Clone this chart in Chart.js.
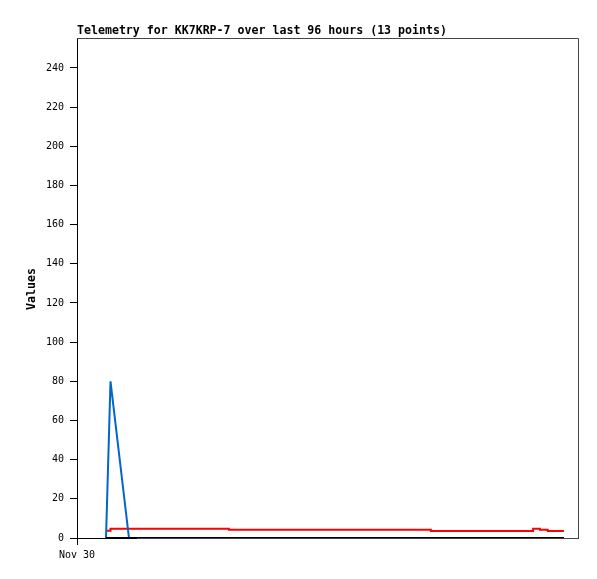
<!DOCTYPE html>
<html>
<head>
<meta charset="utf-8">
<title>Telemetry</title>
<script src="https://cdn.jsdelivr.net/npm/chart.js@4.4.1/dist/chart.umd.min.js"></script>
<style>
  html, body { margin: 0; padding: 0; background: #fff; }
  #wrap { width: 597px; height: 579px; }
</style>
</head>
<body>
<div id="wrap"><canvas id="telemetryChart" width="597" height="579"></canvas></div>
<script>
// hours since Nov 30 00:00 for each of the 13 telemetry points
const hours = [5.56, 6.42, 9.96, 19.7, 29.1, 42.7, 58.1, 67.8, 77.2, 87.4, 88.7, 90.2, 93.3];
const seriesBlack = [0, 0, 0, 0, 0, 0, 0, 0, 0, 0, 0, 0, 0];
const seriesBlue = [0, 80, 0, 0, 0, 0, 0, 0, 0, 0, 0, 0, 0];
const seriesRed = [3.7, 4.75, 4.75, 4.75, 4.25, 4.25, 4.25, 3.6, 3.6, 4.75, 4.25, 3.6, 3.6];
const yTicks = [0, 20, 40, 60, 80, 100, 120, 140, 160, 180, 200, 220, 240];
const xTickLabel = 'Nov 30';
const titleText = 'Telemetry for KK7KRP-7 over last 96 hours (13 points)';
const yAxisTitle = 'Values';

function toPoints(values) {
    return values.map((v, i) => ({ x: hours[i], y: v }));
}

// title, axis title and grey frame drawn by hand, like the original gd output
const framePlugin = {
    id: 'frame',
    afterDraw(chart) {
        const ctx = chart.ctx;
        const a = chart.chartArea;
        ctx.save();
        ctx.strokeStyle = '#444';
        ctx.lineWidth = 1;
        ctx.beginPath();
        ctx.moveTo(a.left, a.top + 0.5);
        ctx.lineTo(a.right + 0.5, a.top + 0.5);
        ctx.lineTo(a.right + 0.5, a.bottom + 0.5);
        ctx.lineTo(a.left + 60, a.bottom + 0.5);
        ctx.stroke();
        ctx.fillStyle = '#000';
        ctx.font = 'bold 11.6px "DejaVu Sans Mono", monospace';
        ctx.textBaseline = 'alphabetic';
        ctx.textAlign = 'left';
        ctx.fillText(titleText, a.left, a.top - 4);
        // rotated y axis title
        ctx.translate(32, (a.top + a.bottom) / 2 + 1);
        ctx.rotate(-Math.PI / 2);
        ctx.textAlign = 'center';
        ctx.textBaseline = 'middle';
        ctx.font = 'bold 11.6px "DejaVu Sans Mono", monospace';
        ctx.fillText(yAxisTitle, 0, 0);
        ctx.restore();
    }
};

document.addEventListener("DOMContentLoaded", function() {
    const ctx = document.getElementById('telemetryChart').getContext('2d');
    new Chart(ctx, {
        type: 'line',
        data: {
            datasets: [
                { data: toPoints(seriesBlack), borderColor: '#000000', borderWidth: 2, pointRadius: 0 },
                { data: toPoints(seriesBlue), borderColor: '#0066cc', borderWidth: 2, pointRadius: 0 },
                { data: toPoints(seriesRed), borderColor: '#ff0000', borderWidth: 2, pointRadius: 0, stepped: true }
            ]
        },
        options: {
            responsive: false,
            animation: false,
            events: [],
            layout: { padding: { top: 38, right: 19, left: 0, bottom: 0 } },
            plugins: { legend: { display: false }, tooltip: { enabled: false }, title: { display: false } },
            scales: {
                x: {
                    type: 'linear',
                    min: 0,
                    max: 96,
                    afterBuildTicks: (scale) => { scale.ticks = [{ value: 0 }]; },
                    afterFit: (scale) => { scale.height = 41; },
                    ticks: {
                        callback: () => xTickLabel,
                        color: '#000',
                        padding: 4,
                        maxRotation: 0,
                        font: { family: '"DejaVu Sans Mono", monospace', size: 10 }
                    },
                    grid: { drawOnChartArea: false, drawTicks: true, tickLength: 7, color: '#000' },
                    border: { display: true, color: '#000' }
                },
                y: {
                    min: 0,
                    max: 255.3,
                    afterBuildTicks: (scale) => { scale.ticks = yTicks.map(v => ({ value: v })); },
                    afterFit: (scale) => { scale.width = 77; },
                    ticks: {
                        color: '#000',
                        padding: 6,
                        font: { family: '"DejaVu Sans Mono", monospace', size: 10 }
                    },
                    grid: { drawOnChartArea: false, drawTicks: true, tickLength: 7, color: '#000' },
                    border: { display: true, color: '#000' }
                }
            }
        },
        plugins: [framePlugin]
    });
});
</script>
</body>
</html>
